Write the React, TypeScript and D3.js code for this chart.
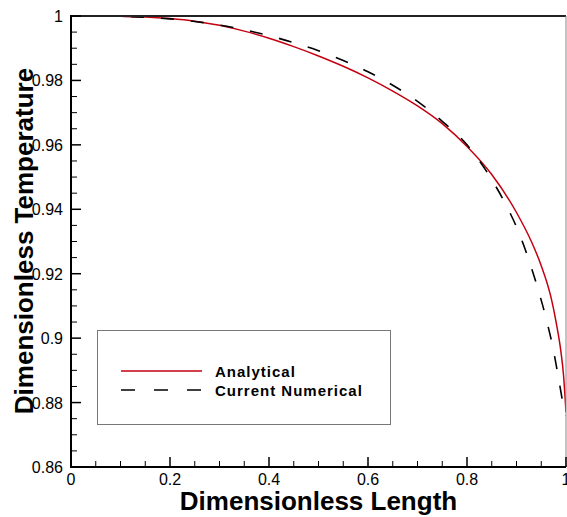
import React from "react";
import * as d3 from "d3";

const analyticalX = [0, 0.05, 0.1, 0.15, 0.2, 0.25, 0.3, 0.35, 0.4, 0.45, 0.5, 0.55, 0.6, 0.65, 0.7, 0.75, 0.8, 0.85, 0.9, 0.93, 0.95, 0.97, 0.98, 0.99, 0.995, 1.0];
const analyticalY = [1.0, 1.0, 0.9999, 0.9997, 0.9992, 0.9984, 0.9971, 0.9953, 0.9931, 0.9905, 0.9876, 0.9844, 0.9808, 0.9767, 0.9721, 0.9666, 0.9595, 0.9508, 0.939, 0.93, 0.9225, 0.9125, 0.905, 0.8955, 0.8885, 0.877];

const numericalX = [0, 0.05, 0.1, 0.15, 0.2, 0.25, 0.3, 0.35, 0.4, 0.45, 0.5, 0.55, 0.6, 0.65, 0.7, 0.75, 0.8, 0.85, 0.88, 0.9, 0.92, 0.94, 0.96, 0.975, 0.985, 0.995, 1];
const numericalY = [1, 1, 0.9999, 0.9996, 0.9991, 0.9983, 0.9972, 0.9957, 0.9939, 0.9917, 0.9892, 0.9862, 0.9827, 0.9785, 0.9735, 0.9673, 0.96, 0.9492, 0.941, 0.9345, 0.9265, 0.917, 0.906, 0.896, 0.8875, 0.879, 0.876];

const xMajorTicks = [0, 0.2, 0.4, 0.6, 0.8, 1];
const xTickLabels = ["0", "0.2", "0.4", "0.6", "0.8", "1"];
const yMajorTicks = [0.86, 0.88, 0.9, 0.92, 0.94, 0.96, 0.98, 1];
const yTickLabels = ["0.86", "0.88", "0.9", "0.92", "0.94", "0.96", "0.98", "1"];

const seriesNames = ["Analytical", "Current Numerical"];

const W = 567;
const H = 517;
const L = 71, R = 566, T = 16, B = 467;
const RED = "#c40010";

export default function App() {
  const x = d3.scaleLinear().domain([0, 1]).range([L, R]);
  const y = d3.scaleLinear().domain([0.86, 1]).range([B, T]);

  const xMinor: number[] = [];
  for (let i = 0; i <= 20; i++) if (i % 4 !== 0) xMinor.push(i * 0.05);
  const yMinor: number[] = [];
  for (let i = 0; i <= 28; i++) if (i % 4 !== 0) yMinor.push(0.86 + i * 0.005);

  const line = d3
    .line<[number, number]>()
    .x((d) => x(d[0]))
    .y((d) => y(d[1]))
    .curve(d3.curveMonotoneX);

  const aPts = analyticalX.map((v, i) => [v, analyticalY[i]] as [number, number]);
  const nPts = numericalX.map((v, i) => [v, numericalY[i]] as [number, number]);

  const font = "'Liberation Sans', Arial, sans-serif";

  return (
    <svg
      width={W}
      height={H}
      style={{ position: "absolute", left: 0, top: 0, background: "#fff" }}
      fontFamily={font}
    >
      <rect x={0} y={0} width={W} height={H} fill="#fff" />
      <defs>
        <clipPath id="plotclip">
          <rect x={L} y={T} width={R - L} height={B - T} />
        </clipPath>
      </defs>

      {/* curves */}
      <g clipPath="url(#plotclip)">
        <path d={line(aPts) || ""} fill="none" stroke={RED} strokeWidth={1.5} />
        <path d={line(nPts) || ""} fill="none" stroke="#000" strokeWidth={1.6} strokeDasharray="13,17" />
      </g>

      {/* frame */}
      <line x1={L} y1={T} x2={R} y2={T} stroke="#222" strokeWidth={2} />
      <line x1={R} y1={T} x2={R} y2={B} stroke="#888" strokeWidth={1} />

      {/* x ticks */}
      {xMajorTicks.map((t) => (
        <line key={"xM" + t} x1={x(t)} x2={x(t)} y1={B} y2={B - 10} stroke="#000" strokeWidth={1.5} />
      ))}
      {xMinor.map((t) => (
        <line key={"xm" + t} x1={x(t)} x2={x(t)} y1={B} y2={B - 6} stroke="#000" strokeWidth={1} />
      ))}
      {/* y ticks */}
      {yMajorTicks.map((t) => (
        <line key={"yM" + t} x1={L} x2={L + 10} y1={y(t)} y2={y(t)} stroke="#000" strokeWidth={1.5} />
      ))}
      {yMinor.map((t) => (
        <line key={"ym" + t} x1={L} x2={L + 6} y1={y(t)} y2={y(t)} stroke="#000" strokeWidth={1} />
      ))}

      {/* axes */}
      <line x1={L} y1={T - 1} x2={L} y2={B + 1} stroke="#000" strokeWidth={2} />
      <line x1={L - 1} y1={B} x2={R} y2={B} stroke="#000" strokeWidth={2} />

      {/* tick labels */}
      {xMajorTicks.map((t, i) => (
        <text key={"xl" + t} x={x(t)} y={B + 18} textAnchor="middle" fontSize={16} fill="#000">
          {xTickLabels[i]}
        </text>
      ))}
      {yMajorTicks.map((t, i) => (
        <text key={"yl" + t} x={L - 8} y={y(t) + 6} textAnchor="end" fontSize={16} fill="#000">
          {yTickLabels[i]}
        </text>
      ))}

      {/* axis titles */}
      <text x={(L + R) / 2} y={510} textAnchor="middle" fontSize={26} fontWeight="bold" fill="#000">
        Dimensionless Length
      </text>
      <text
        transform={`translate(33, 241) rotate(-90)`}
        textAnchor="middle"
        fontSize={26}
        fontWeight="bold"
        fill="#000"
      >
        Dimensionless Temperature
      </text>

      {/* legend */}
      <rect x={97.5} y={330.5} width={293} height={94} fill="#fff" stroke="#777" strokeWidth={1} />
      <line x1={121} x2={202} y1={371} y2={371} stroke={RED} strokeWidth={1.5} />
      <line x1={121} x2={202} y1={390} y2={390} stroke="#000" strokeWidth={1.6} strokeDasharray="14,19" />
      <text x={215} y={377} fontSize={15} fontWeight="bold" letterSpacing={1} fill="#000">
        {seriesNames[0]}
      </text>
      <text x={215} y={396} fontSize={15} fontWeight="bold" letterSpacing={1} fill="#000">
        {seriesNames[1]}
      </text>
    </svg>
  );
}
